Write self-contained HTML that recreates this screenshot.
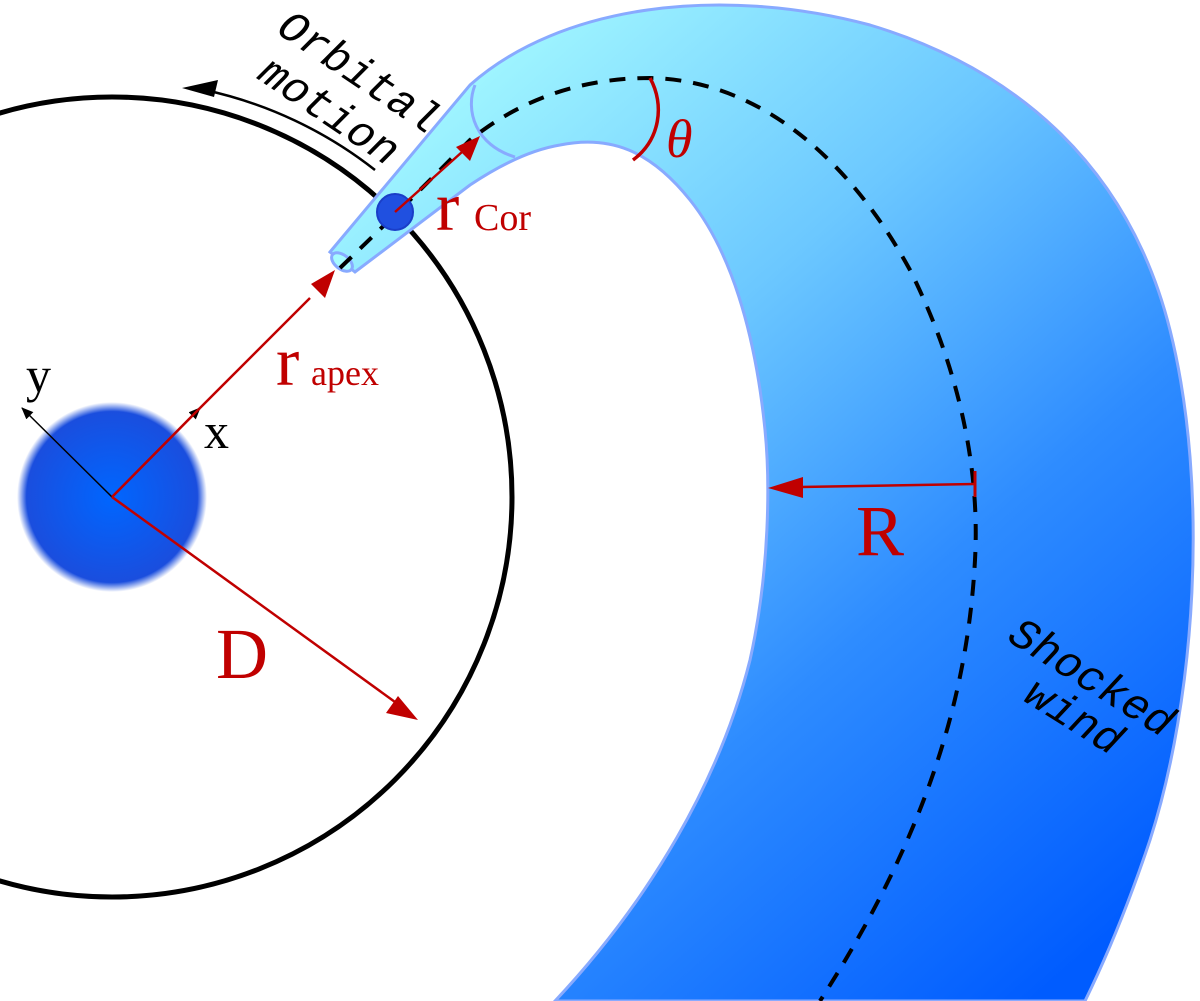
<!DOCTYPE html>
<html><head><meta charset="utf-8"><style>html,body{margin:0;padding:0;background:#fff}svg{display:block}</style></head>
<body>
<svg width="1200" height="1001" viewBox="0 0 1200 1001" xmlns="http://www.w3.org/2000/svg">
<defs>
<linearGradient id="g" gradientUnits="userSpaceOnUse" x1="420" y1="60" x2="1150" y2="900">
<stop offset="0" stop-color="#a6fbff"/><stop offset="0.35" stop-color="#6cc8ff"/><stop offset="0.65" stop-color="#2e8cff"/><stop offset="1" stop-color="#005cff"/>
</linearGradient>
<radialGradient id="s" cx="0.5" cy="0.5" r="0.5">
<stop offset="0" stop-color="#0066ff"/><stop offset="0.9" stop-color="#1a4ede"/><stop offset="1" stop-color="#1a4ede" stop-opacity="0"/>
</radialGradient>
<marker id="ab" markerWidth="12" markerHeight="10" refX="11" refY="5" orient="auto" markerUnits="userSpaceOnUse" viewBox="0 0 12 10">
<path d="M0,0 L12,5 L0,10 Z" fill="#000"/></marker>
</defs>

<circle cx="112" cy="497" r="95" fill="url(#s)"/>
<circle cx="112" cy="497" r="400" fill="none" stroke="#000" stroke-width="5"/>

<path d="M330,252 L470,85 C560,5 720,-15 870,25 C1020,70 1130,170 1170,330 C1210,490 1195,700 1150,840 C1130,900 1110,950 1085,1001 L555,1001 C650,900 720,780 750,660 C770,570 770,480 765,430 C755,330 730,250 690,200 C650,150 610,135 560,145 C530,150 500,165 470,185 L355,272 Z" fill="url(#g)" stroke="#88aaff" stroke-width="3"/>
<path d="M475,85 C465,110 475,145 515,157" fill="none" stroke="#88aaff" stroke-width="3"/>
<ellipse cx="342" cy="262" rx="12" ry="7" transform="rotate(38 342 262)" fill="#a6fbff" stroke="#88aaff" stroke-width="3"/>

<path d="M340,268 L400,210 L470,140 C520,100 580,78 650,78 C760,80 850,160 910,270 C960,370 980,470 975,560 C968,690 930,830 820,1001" fill="none" stroke="#000" stroke-width="4" stroke-dasharray="16,12"/>

<circle cx="395" cy="212" r="18" fill="#2050e0" stroke="#1a3ec8" stroke-width="2"/>

<path d="M375,170 A420,420 0 0 0 205,90" fill="none" stroke="#000" stroke-width="2.5"/>
<path d="M182,88 L218,80 L214,97 Z" fill="#000"/>

<line x1="112" y1="497" x2="200" y2="408" stroke="#000" stroke-width="2" marker-end="url(#ab)"/>
<line x1="112" y1="497" x2="22" y2="408" stroke="#000" stroke-width="1.5" marker-end="url(#ab)"/>

<line x1="112" y1="497" x2="200" y2="408" stroke="#c00000" stroke-width="2.5"/>
<line x1="200" y1="408" x2="310" y2="298" stroke="#c00000" stroke-width="2.5"/>
<path d="M335,270 L325,298 L311,284 Z" fill="#c00000"/>
<line x1="395" y1="212" x2="462" y2="152" stroke="#c00000" stroke-width="2.5"/>
<path d="M480,136 L470,161 L456,147 Z" fill="#c00000"/>
<line x1="112" y1="497" x2="395" y2="702" stroke="#c00000" stroke-width="2.5"/>
<path d="M418,720 L386,713 L398,696 Z" fill="#c00000"/>
<line x1="975" y1="484" x2="800" y2="487" stroke="#c00000" stroke-width="2.5"/>
<path d="M768,488 L803,477 L803,498 Z" fill="#c00000"/>
<line x1="975" y1="471" x2="975" y2="497" stroke="#c00000" stroke-width="3"/>
<path d="M650,78 C665,105 660,140 633,160" fill="none" stroke="#c00000" stroke-width="3.5"/>

<g font-family="Liberation Serif, serif" fill="#c00000">
<text x="276" y="385" font-size="70">r</text>
<text x="311" y="385" font-size="36">apex</text>
<text x="436" y="230" font-size="70">r</text>
<text x="474" y="230" font-size="38">Cor</text>
<text x="216" y="678" font-size="72">D</text>
<text x="856" y="555" font-size="72">R</text>
<text x="666" y="157" font-size="54" font-style="italic">θ</text>
</g>
<g font-family="Liberation Serif, serif" fill="#000" font-size="50">
<text x="204" y="448">x</text>
<text x="26" y="392">y</text>
</g>
<g font-family="Liberation Mono, monospace" font-style="italic" fill="#000" font-size="44">
<text transform="translate(275,32) rotate(34)">Orbital</text>
<text transform="translate(256,78) rotate(34)">motion</text>
<text transform="translate(1006,640) rotate(32)">Shocked</text>
<text transform="translate(1022,700) rotate(32)">wind</text>
</g>
</svg>
</body></html>
